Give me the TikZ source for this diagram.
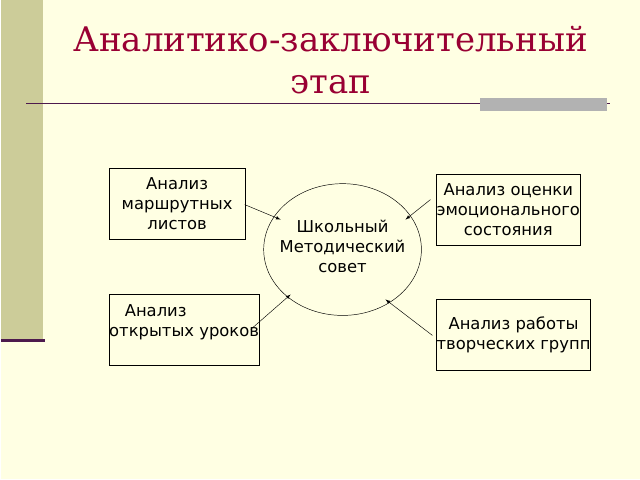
\documentclass[tikz,border=0pt]{standalone}
\usepackage{fontspec}
\setmainfont{DejaVu Sans}
\newfontfamily\titlefont{DejaVu Serif}
\definecolor{bgyellow}{HTML}{FFFFE3}
\definecolor{stripe}{HTML}{CCCC99}
\definecolor{titlered}{HTML}{990033}
\definecolor{rulepurple}{HTML}{4D1A4D}
\tikzset{
  infobox/.style={draw=black,minimum width=136\px,minimum height=71\px,inner sep=0pt,
    align=center,font=\fontsize{14}{17}\selectfont},
  link/.style={-latex,black,thin}
}
\newlength{\px}\setlength{\px}{0.03cm}
\begin{document}
\begin{tikzpicture}[x=0.03cm,y=-0.03cm]
  \fill[bgyellow] (0,0) rectangle (640,480);
  \fill[stripe] (0,0) rectangle (42,340);
  \draw[rulepurple,line width=2pt] (0,341) -- (44,341);
  \draw[rulepurple,line width=1pt] (25,104) -- (610,104);
  \fill[black!30] (480,98) rectangle (607,111);
  \node[titlered,align=center,font=\titlefont\fontsize{29}{36}\selectfont] (title) at (330,60)
    {Аналитико-заключительный\\этап};
  % boxes
  \node[infobox,anchor=north west] (routes) at (108,168) {Анализ\\маршрутных\\листов};
  \node[infobox,anchor=north west] (emotion) at (436,174) {Анализ оценки\\эмоционального\\состояния};
  \node[infobox,anchor=north west,align=left] (lessons) at (108,295) {\ \ \ Анализ\\открытых уроков\\ };
  \node[infobox,anchor=north west] (groups) at (436,300) {Анализ работы\\творческих групп};
  % council
  \draw (342,250) ellipse (79 and 66);
  \node[align=center,font=\fontsize{14}{17}\selectfont] (council) at (342,247) {Школьный\\Методический\\совет};
  \coordinate (c1) at (280,220);
  \coordinate (c2) at (405,220);
  \coordinate (c3) at (290,295);
  \coordinate (c4) at (385,300);
  \draw[link] (244,205) -- (c1);
  \draw[link] (430,200) -- (c2);
  \draw[link] (250,330) -- (c3);
  \draw[link] (432,336) -- (c4);
\end{tikzpicture}
\end{document}
